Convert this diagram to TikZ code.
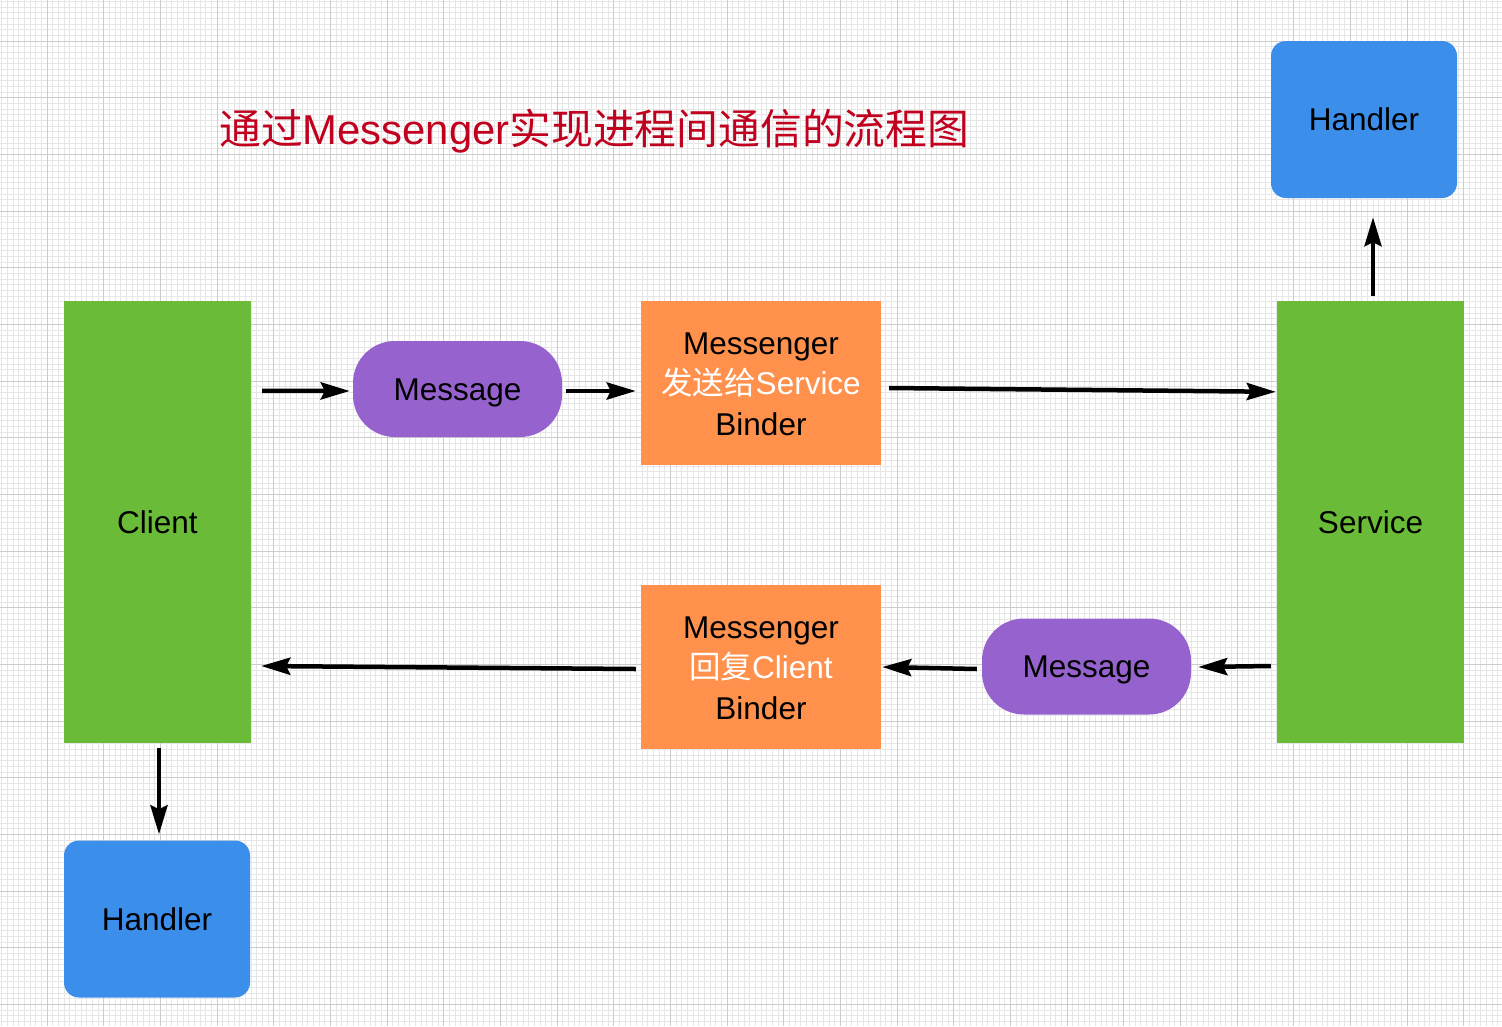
\documentclass[tikz,border=0pt]{standalone}
\usepackage{fontspec}
\setmainfont{Liberation Sans}
\newfontfamily\cjk{Noto Sans CJK SC}
\usetikzlibrary{arrows.meta,calc}
\definecolor{cgreen}{HTML}{6ABC38}
\definecolor{cblue}{HTML}{3B8EEA}
\definecolor{cpurple}{HTML}{9562CE}
\definecolor{corange}{HTML}{FF914D}
\definecolor{ctitle}{HTML}{C0001E}
\definecolor{gminor}{HTML}{E6E6E6}
\definecolor{gmajor}{HTML}{CCCCCC}
\tikzset{
  boxtext/.style={font=\fontsize{31.5}{41}\selectfont, text=black, align=center, inner sep=0pt},
  oneline/.style={text height=22.6pt, text depth=0pt},
  greenbox/.style={boxtext, oneline, fill=cgreen, minimum width=187pt, minimum height=442pt},
  bluebox/.style={boxtext, oneline, fill=cblue, rounded corners=15pt, minimum width=186pt, minimum height=157pt},
  msgbox/.style={boxtext, oneline, fill=cpurple, rounded corners=42pt, minimum width=209pt, minimum height=96pt},
  orangebox/.style={boxtext, fill=corange, minimum width=240pt, minimum height=164pt},
  arr/.style={line width=4.5pt, draw=black, -{Stealth[length=29pt,width=17pt,inset=4pt]}},
}
\begin{document}
\begin{tikzpicture}[x=1pt,y=-1pt]
\fill[white] (0,0) rectangle (1502,1026);
\useasboundingbox (0,0) rectangle (1502,1026);
% minor grid
\foreach \i in {0,...,265} {
  \draw[gminor, line width=0.8pt] ({1.67+5.667*\i},0) -- ({1.67+5.667*\i},1026);
}
\foreach \j in {0,...,181} {
  \draw[gminor, line width=0.8pt] (0,{1.33+5.667*\j}) -- (1502,{1.33+5.667*\j});
}
% major grid
\foreach \i in {0,...,26} {
  \draw[gmajor, line width=1pt] ({47+56.67*\i},0) -- ({47+56.67*\i},1026);
}
\foreach \j in {0,...,18} {
  \draw[gmajor, line width=1pt] (0,{41+56.67*\j}) -- (1502,{41+56.67*\j});
}

% title
\node[anchor=west, inner sep=0pt, text=ctitle, font=\fontsize{41.8}{50}\selectfont] (title) at (219,131)
  {{\cjk 通过}Messenger{\cjk 实现进程间通信的流程图}};

% nodes
\node[greenbox] (client) at (157.5,522) {Client};
\node[greenbox] (service) at (1370.5,522) {Service};
\node[bluebox] (h1) at (1364,119.5) {Handler};
\node[bluebox] (h2) at (157,919) {Handler};
\node[msgbox] (m1) at (457.5,389) {Message};
\node[msgbox] (m2) at (1086.5,666.5) {Message};
\node[orangebox] (o1) at (761,383) {\rule{0pt}{25pt}Messenger\\[-1pt]\textcolor{white}{{\cjk 发送给}Service}\\Binder};
\node[orangebox] (o2) at (761,666.5) {\rule{0pt}{25pt}Messenger\\[-1pt]\textcolor{white}{{\cjk 回复}Client}\\Binder};

% connectors
\draw[arr] ($(client.north east)+(11,90)$) -- ($(m1.west)+(-3,2)$);
\draw[arr] ($(m1.east)+(4,2)$) -- ($(o1.west)+(-5,8)$);
\draw[arr] ($(o1.east)+(8,5)$) -- ($(service.north west)+(-1,91)$);
\draw[arr] ($(service.north)+(2.5,-5)$) -- ($(h1.south)+(9,19)$);
\draw[arr] ($(service.west)+(-6,144)$) -- ($(m2.east)+(7,0.5)$);
\draw[arr] ($(m2.west)+(-5,2.5)$) -- ($(o2.east)+(1,0.5)$);
\draw[arr] ($(o2.west)+(-5,2.5)$) -- ($(client.east)+(10,144)$);
\draw[arr] ($(client.south)+(1.5,5)$) -- ($(h2.north)+(2,-6)$);
\end{tikzpicture}
\end{document}
